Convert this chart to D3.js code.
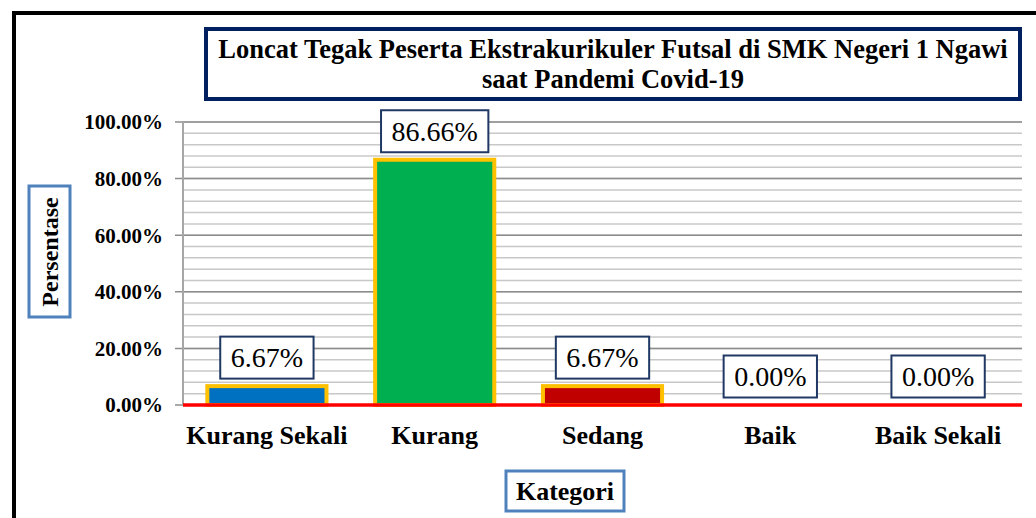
<!DOCTYPE html>
<html>
<head>
<meta charset="utf-8">
<script src="https://cdn.jsdelivr.net/npm/d3@7"></script>
<style>
  body { margin: 0; background: #fff; }
</style>
</head>
<body>
<svg id="chart"></svg>
<script>
// data
var categories = ["Kurang Sekali", "Kurang", "Sedang", "Baik", "Baik Sekali"];
var values = [6.67, 86.66, 6.67, 0.00, 0.00];
var barColors = ["#0070C0", "#00B050", "#C00000", "#7030A0", "#FFC000"];
var titleLines = ["Loncat Tegak Peserta Ekstrakurikuler Futsal di SMK Negeri 1 Ngawi", "saat Pandemi Covid-19"];
var yTitle = "Persentase";
var xTitle = "Kategori";

var screen = { width: 1036, height: 518 };
var plot = { left: 183, right: 1022, top: 122, bottom: 405 };
var serif = "'Liberation Serif', 'Times New Roman', Tinos, 'DejaVu Serif', serif";

var svg = d3.select("#chart")
  .attr("width", screen.width)
  .attr("height", screen.height)
  .attr("font-family", serif);

// outer frame
svg.append("rect")
  .attr("x", 14).attr("y", 13)
  .attr("width", 1200).attr("height", 700)
  .attr("fill", "none")
  .attr("stroke", "#000")
  .attr("stroke-width", 4);

var x = d3.scaleBand()
  .domain(categories)
  .range([plot.left, plot.right])
  .paddingInner(0.29)
  .paddingOuter(0.145);

var y = d3.scaleLinear()
  .domain([0, 100])
  .range([plot.bottom, plot.top]);

// gridlines
var minorTicks = d3.range(0, 100.01, 4);
var majorTicks = d3.range(0, 100.01, 20);

svg.append("g")
  .selectAll("line")
  .data(minorTicks)
  .join("line")
    .attr("x1", plot.left).attr("x2", plot.right)
    .attr("y1", d => y(d)).attr("y2", d => y(d))
    .attr("stroke", "#C8C8C8")
    .attr("stroke-width", 1.5);

svg.append("g")
  .selectAll("line")
  .data(majorTicks)
  .join("line")
    .attr("x1", plot.left - 8).attr("x2", plot.right)
    .attr("y1", d => y(d)).attr("y2", d => y(d))
    .attr("stroke", "#8C8C8C")
    .attr("stroke-width", 1.5);

// y axis line
svg.append("line")
  .attr("x1", plot.left).attr("x2", plot.left)
  .attr("y1", plot.top).attr("y2", plot.bottom)
  .attr("stroke", "#A6A6A6")
  .attr("stroke-width", 2);

// y tick labels
svg.append("g")
  .selectAll("text")
  .data(majorTicks)
  .join("text")
    .attr("x", 163)
    .attr("y", d => y(d))
    .attr("dy", "0.35em")
    .attr("text-anchor", "end")
    .attr("font-size", 21)
    .attr("font-weight", "bold")
    .text(d => d.toFixed(2) + "%");

// bars
svg.append("g")
  .selectAll("rect")
  .data(values)
  .join("rect")
    .attr("x", (d, i) => x(categories[i]))
    .attr("y", d => y(d))
    .attr("width", x.bandwidth())
    .attr("height", d => y(0) - y(d))
    .attr("fill", (d, i) => barColors[i])
    .attr("stroke", d => d > 0 ? "#FFC000" : "none")
    .attr("stroke-width", 4);

// red baseline
svg.append("line")
  .attr("x1", plot.left).attr("x2", plot.right)
  .attr("y1", y(0)).attr("y2", y(0))
  .attr("stroke", "#FF0000")
  .attr("stroke-width", 3.5);

// data labels
var labels = svg.append("g")
  .selectAll("g")
  .data(values)
  .join("g");

labels.append("rect")
  .attr("fill", "#fff")
  .attr("stroke", "#1F3864")
  .attr("stroke-width", 2);

labels.append("text")
  .attr("text-anchor", "middle")
  .attr("font-size", 28)
  .attr("x", (d, i) => x(categories[i]) + x.bandwidth() / 2)
  .attr("y", d => y(d) - 7.5 - 21)
  .attr("dy", "0.35em")
  .text(d => d.toFixed(2) + "%");

labels.each(function(d, i) {
  var g = d3.select(this);
  var w = g.select("text").node().getComputedTextLength() + 21;
  var cx = x(categories[i]) + x.bandwidth() / 2;
  g.select("rect")
    .attr("x", cx - w / 2)
    .attr("y", y(d) - 7.5 - 42)
    .attr("width", w)
    .attr("height", 42);
});

// x category labels
svg.append("g")
  .selectAll("text")
  .data(categories)
  .join("text")
    .attr("x", d => x(d) + x.bandwidth() / 2)
    .attr("y", 444)
    .attr("text-anchor", "middle")
    .attr("font-size", 26)
    .attr("font-weight", "bold")
    .text(d => d);

// title box
svg.append("rect")
  .attr("x", 206).attr("y", 29)
  .attr("width", 814).attr("height", 70)
  .attr("fill", "#fff")
  .attr("stroke", "#002060")
  .attr("stroke-width", 4);

svg.append("g")
  .selectAll("text")
  .data(titleLines)
  .join("text")
    .attr("x", 613)
    .attr("y", (d, i) => 58 + i * 30)
    .attr("text-anchor", "middle")
    .attr("font-size", 26.5)
    .attr("font-weight", "bold")
    .text(d => d);

// y axis title
svg.append("rect")
  .attr("x", 29).attr("y", 186)
  .attr("width", 41).attr("height", 131)
  .attr("fill", "#fff")
  .attr("stroke", "#4F81BD")
  .attr("stroke-width", 3);

svg.append("text")
  .attr("transform", "translate(58,252) rotate(-90)")
  .attr("text-anchor", "middle")
  .attr("font-size", 24)
  .attr("font-weight", "bold")
  .text(yTitle);

// x axis title
svg.append("rect")
  .attr("x", 506).attr("y", 471)
  .attr("width", 118).attr("height", 40)
  .attr("fill", "#fff")
  .attr("stroke", "#4F81BD")
  .attr("stroke-width", 3);

svg.append("text")
  .attr("x", 565)
  .attr("y", 500)
  .attr("text-anchor", "middle")
  .attr("font-size", 26)
  .attr("font-weight", "bold")
  .text(xTitle);
</script>
</body>
</html>
